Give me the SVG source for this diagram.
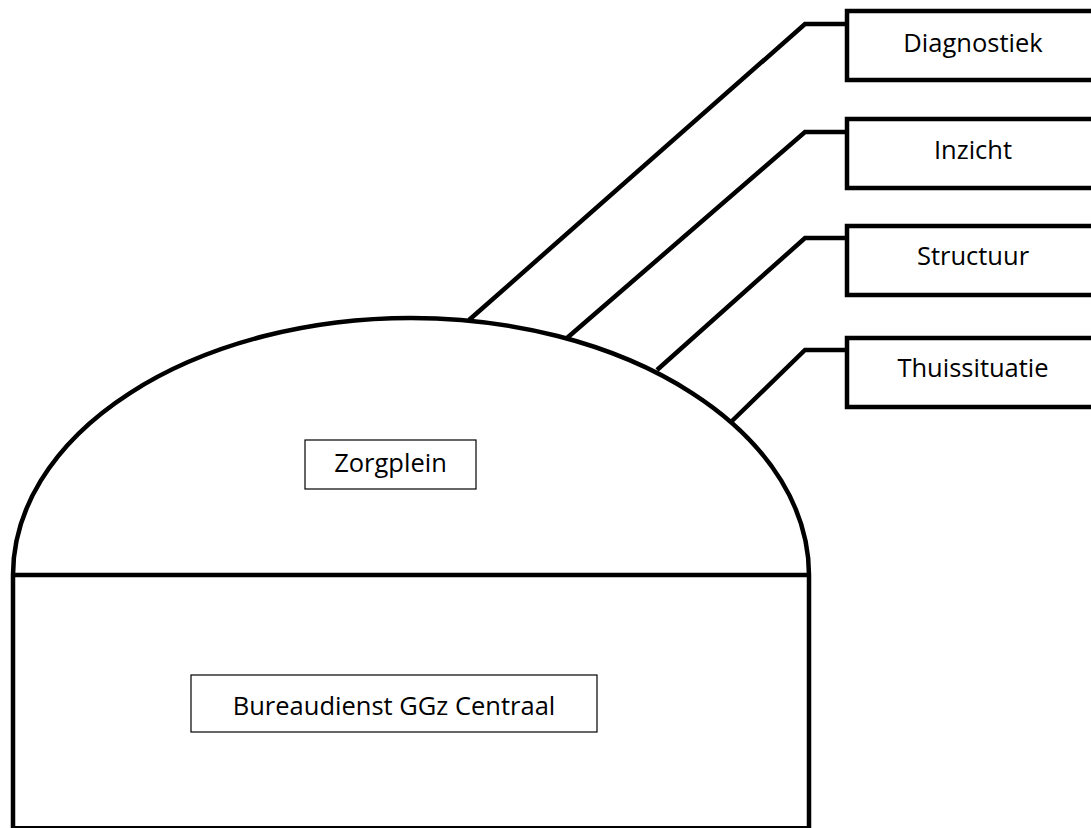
<svg xmlns="http://www.w3.org/2000/svg" width="1091" height="828" viewBox="0 0 1091 828">
<style>
.shape{fill:none;stroke:#000;stroke-width:4.5}
.thin{fill:#fff;stroke:#000;stroke-width:1.2}
.box{fill:#fff;stroke:#000;stroke-width:4.5}
.conn{fill:none;stroke:#000;stroke-width:4.5;stroke-linejoin:miter}
.t{font-family:"Open Sans","Noto Sans",sans-serif;font-size:25.5px;fill:#000;text-anchor:middle}
</style>
<rect width="1091" height="828" fill="#fff"/>
<g id="building">
<path class="shape" d="M13,830 L13,575 A398,257 0 0 1 809,575 L809,830"/>
<line class="shape" x1="13" y1="575" x2="809" y2="575"/>
<line x1="13" y1="827" x2="809" y2="827" stroke="#000" stroke-width="2"/>
</g>
<g id="connectors">
<polyline class="conn" points="469,320 805,24 849,24"/>
<polyline class="conn" points="567,338 805,132 849,132"/>
<polyline class="conn" points="657,370 805,238 849,238"/>
<polyline class="conn" points="732,421 805,350 849,350"/>
</g>
<g id="zorgplein">
<rect class="thin" x="305" y="440" width="171" height="49"/>
<text class="t" x="390.5" y="472">Zorgplein</text>
</g>
<g id="bureaudienst">
<rect class="thin" x="191" y="675" width="406" height="57"/>
<text class="t" x="394" y="715">Bureaudienst GGz Centraal</text>
</g>
<g id="diagnostiek">
<rect class="box" x="847" y="11" width="252" height="69"/>
<text class="t" x="973" y="52">Diagnostiek</text>
</g>
<g id="inzicht">
<rect class="box" x="847" y="119" width="252" height="69"/>
<text class="t" x="973" y="159">Inzicht</text>
</g>
<g id="structuur">
<rect class="box" x="847" y="226" width="252" height="69"/>
<text class="t" x="973" y="265">Structuur</text>
</g>
<g id="thuissituatie">
<rect class="box" x="847" y="338" width="252" height="69"/>
<text class="t" x="973" y="377">Thuissituatie</text>
</g>
</svg>
